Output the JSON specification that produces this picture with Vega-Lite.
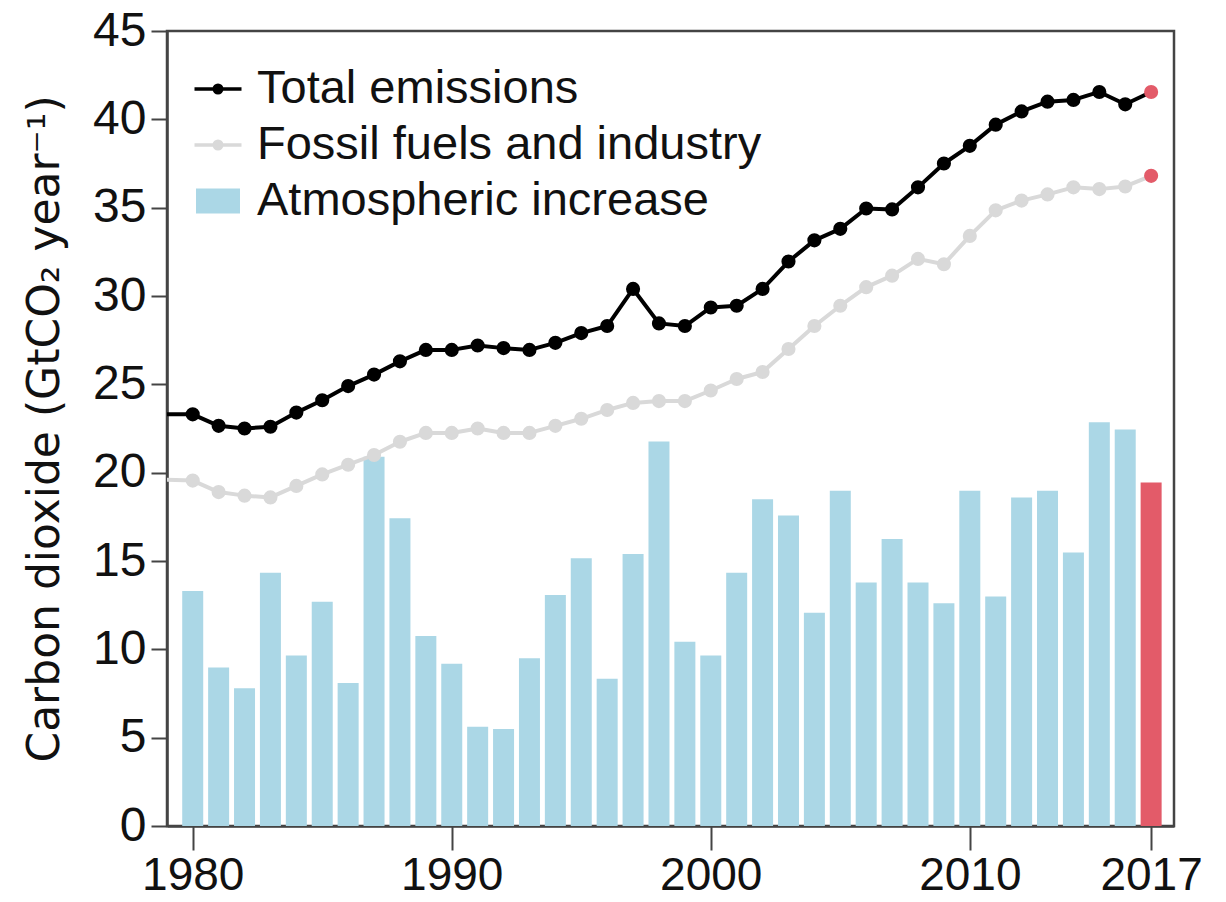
{
  "$schema": "https://vega.github.io/schema/vega-lite/v6.json",
  "width": 1007,
  "height": 795,
  "autosize": {"type": "none"},
  "padding": {"left": 167, "top": 31, "right": 52, "bottom": 76},
  "background": "white",
  "config": {"view": {"stroke": "#444444", "strokeWidth": 2.5}},
  "data": {"values": [
    {"year": 1979, "Total emissions": 23.3, "Fossil fuels and industry": 19.6},
    {"year": 1980, "Total emissions": 23.3, "Fossil fuels and industry": 19.55, "Atmospheric increase": 13.3},
    {"year": 1981, "Total emissions": 22.65, "Fossil fuels and industry": 18.9, "Atmospheric increase": 8.97},
    {"year": 1982, "Total emissions": 22.5, "Fossil fuels and industry": 18.7, "Atmospheric increase": 7.8},
    {"year": 1983, "Total emissions": 22.6, "Fossil fuels and industry": 18.6, "Atmospheric increase": 14.33},
    {"year": 1984, "Total emissions": 23.4, "Fossil fuels and industry": 19.25, "Atmospheric increase": 9.65},
    {"year": 1985, "Total emissions": 24.1, "Fossil fuels and industry": 19.9, "Atmospheric increase": 12.7},
    {"year": 1986, "Total emissions": 24.9, "Fossil fuels and industry": 20.45, "Atmospheric increase": 8.1},
    {"year": 1987, "Total emissions": 25.55, "Fossil fuels and industry": 21.0, "Atmospheric increase": 20.9},
    {"year": 1988, "Total emissions": 26.3, "Fossil fuels and industry": 21.75, "Atmospheric increase": 17.42},
    {"year": 1989, "Total emissions": 26.95, "Fossil fuels and industry": 22.25, "Atmospheric increase": 10.75},
    {"year": 1990, "Total emissions": 26.95, "Fossil fuels and industry": 22.25, "Atmospheric increase": 9.18},
    {"year": 1991, "Total emissions": 27.2, "Fossil fuels and industry": 22.5, "Atmospheric increase": 5.62},
    {"year": 1992, "Total emissions": 27.05, "Fossil fuels and industry": 22.25, "Atmospheric increase": 5.49},
    {"year": 1993, "Total emissions": 26.95, "Fossil fuels and industry": 22.25, "Atmospheric increase": 9.5},
    {"year": 1994, "Total emissions": 27.35, "Fossil fuels and industry": 22.65, "Atmospheric increase": 13.07},
    {"year": 1995, "Total emissions": 27.9, "Fossil fuels and industry": 23.05, "Atmospheric increase": 15.16},
    {"year": 1996, "Total emissions": 28.3, "Fossil fuels and industry": 23.55, "Atmospheric increase": 8.33},
    {"year": 1997, "Total emissions": 30.4, "Fossil fuels and industry": 23.95, "Atmospheric increase": 15.4},
    {"year": 1998, "Total emissions": 28.45, "Fossil fuels and industry": 24.05, "Atmospheric increase": 21.76},
    {"year": 1999, "Total emissions": 28.3, "Fossil fuels and industry": 24.05, "Atmospheric increase": 10.43},
    {"year": 2000, "Total emissions": 29.35, "Fossil fuels and industry": 24.65, "Atmospheric increase": 9.65},
    {"year": 2001, "Total emissions": 29.45, "Fossil fuels and industry": 25.3, "Atmospheric increase": 14.33},
    {"year": 2002, "Total emissions": 30.4, "Fossil fuels and industry": 25.7, "Atmospheric increase": 18.5},
    {"year": 2003, "Total emissions": 31.95, "Fossil fuels and industry": 27.0, "Atmospheric increase": 17.57},
    {"year": 2004, "Total emissions": 33.15, "Fossil fuels and industry": 28.3, "Atmospheric increase": 12.07},
    {"year": 2005, "Total emissions": 33.8, "Fossil fuels and industry": 29.45, "Atmospheric increase": 18.97},
    {"year": 2006, "Total emissions": 34.95, "Fossil fuels and industry": 30.5, "Atmospheric increase": 13.78},
    {"year": 2007, "Total emissions": 34.9, "Fossil fuels and industry": 31.15, "Atmospheric increase": 16.25},
    {"year": 2008, "Total emissions": 36.15, "Fossil fuels and industry": 32.1, "Atmospheric increase": 13.78},
    {"year": 2009, "Total emissions": 37.5, "Fossil fuels and industry": 31.8, "Atmospheric increase": 12.61},
    {"year": 2010, "Total emissions": 38.5, "Fossil fuels and industry": 33.4, "Atmospheric increase": 18.97},
    {"year": 2011, "Total emissions": 39.7, "Fossil fuels and industry": 34.85, "Atmospheric increase": 12.99},
    {"year": 2012, "Total emissions": 40.45, "Fossil fuels and industry": 35.4, "Atmospheric increase": 18.59},
    {"year": 2013, "Total emissions": 41.0, "Fossil fuels and industry": 35.75, "Atmospheric increase": 18.97},
    {"year": 2014, "Total emissions": 41.1, "Fossil fuels and industry": 36.15, "Atmospheric increase": 15.48},
    {"year": 2015, "Total emissions": 41.55, "Fossil fuels and industry": 36.05, "Atmospheric increase": 22.85},
    {"year": 2016, "Total emissions": 40.85, "Fossil fuels and industry": 36.2, "Atmospheric increase": 22.45},
    {"year": 2017, "Total emissions": 41.55, "Fossil fuels and industry": 36.8, "Atmospheric increase": 19.44}
  ]},
  "transform": [
    {"fold": ["Total emissions", "Fossil fuels and industry", "Atmospheric increase"], "as": ["series", "value"]}
  ],
  "encoding": {
    "x": {
      "field": "year",
      "type": "quantitative",
      "scale": {"domain": [1979.2, 2017.69], "nice": false, "zero": false},
      "axis": {
        "title": null,
        "values": [1980, 1990, 2000, 2010, 2017],
        "format": "d",
        "grid": false,
        "tickSize": 24,
        "tickWidth": 2,
        "tickColor": "#444444",
        "domainColor": "#444444",
        "domainWidth": 2.5,
        "labelPadding": 3,
        "labelFont": "Liberation Sans",
        "labelFontSize": 46,
        "labelColor": "#111111",
        "labelOverlap": false,
        "labelFlush": false,
        "labelBound": false
      }
    },
    "y": {
      "field": "value",
      "type": "quantitative",
      "scale": {"domain": [0, 45], "nice": false, "zero": true},
      "axis": {
        "title": "Carbon dioxide (GtCO₂ year⁻¹)",
        "values": [0, 5, 10, 15, 20, 25, 30, 35, 40, 45],
        "grid": false,
        "tickSize": 16,
        "tickWidth": 2,
        "tickColor": "#444444",
        "domainColor": "#444444",
        "domainWidth": 2.5,
        "labelPadding": 5,
        "labelFont": "Liberation Sans",
        "labelFontSize": 48,
        "labelColor": "#111111",
        "labelOverlap": false,
        "labelFlush": false,
        "labelBound": false,
        "titleFont": "DejaVu Sans",
        "titleFontSize": 44,
        "titleFontWeight": "normal",
        "titleColor": "#111111",
        "titleAngle": -90,
        "titleAlign": "center",
        "titleBaseline": "alphabetic",
        "titleX": -109,
        "titleY": 397.5
      }
    }
  },
  "layer": [
    {
      "transform": [{"filter": "datum.series === 'Atmospheric increase' && datum.year >= 1980"}],
      "mark": {"type": "bar", "width": 21, "opacity": 1},
      "encoding": {
        "color": {
          "condition": {"test": "datum.year === 2017", "value": "#e35b69"},
          "field": "series",
          "type": "nominal",
          "scale": {
            "domain": ["Total emissions", "Fossil fuels and industry", "Atmospheric increase"],
            "range": ["#000000", "#d9d9d9", "#abd7e6"]
          },
          "legend": {
            "title": null,
            "orient": "none",
            "legendX": 24,
            "legendY": 31,
            "padding": 0,
            "values": ["Total emissions", "Fossil fuels and industry", "Atmospheric increase"],
            "labelFont": "Liberation Sans",
            "labelFontSize": 47,
            "labelColor": "#111111",
            "labelOffset": 12,
            "labelLimit": 800,
            "symbolSize": 2500,
            "symbolOpacity": 1,
            "symbolStrokeWidth": 3.5,
            "rowPadding": 6
          }
        }
      }
    },
    {
      "transform": [{"filter": "datum.series !== 'Atmospheric increase'"}],
      "mark": {"type": "line", "strokeWidth": 4, "clip": true, "strokeJoin": "round"},
      "encoding": {
        "color": {"field": "series", "type": "nominal"}
      }
    },
    {
      "transform": [{"filter": "datum.series !== 'Atmospheric increase' && datum.year >= 1980"}],
      "mark": {"type": "point", "filled": true, "size": 200, "opacity": 1},
      "encoding": {
        "color": {
          "condition": {"test": "datum.year === 2017", "value": "#e35b69"},
          "field": "series",
          "type": "nominal"
        }
      }
    },
    {
      "transform": [{"filter": "datum.year === 0"}],
      "mark": {"type": "point", "filled": true, "opacity": 0},
      "encoding": {
        "color": {"field": "series", "type": "nominal"},
        "shape": {
          "field": "series",
          "type": "nominal",
          "scale": {
            "domain": ["Total emissions", "Fossil fuels and industry", "Atmospheric increase"],
            "range": [
              "M-0.94,0H0.94M-0.15,0A0.15,0.15,0,1,0,0.15,0A0.15,0.15,0,1,0,-0.15,0Z",
              "M-0.94,0H0.94M-0.15,0A0.15,0.15,0,1,0,0.15,0A0.15,0.15,0,1,0,-0.15,0Z",
              "M-0.81,-0.43H0.81V0.43H-0.81Z"
            ]
          },
          "legend": {
            "title": null,
            "orient": "none",
            "legendX": 24,
            "legendY": 31,
            "padding": 0,
            "values": ["Total emissions", "Fossil fuels and industry", "Atmospheric increase"],
            "labelFont": "Liberation Sans",
            "labelFontSize": 47,
            "labelColor": "#111111",
            "labelOffset": 12,
            "labelLimit": 800,
            "symbolSize": 2500,
            "symbolOpacity": 1,
            "symbolStrokeWidth": 3.5,
            "rowPadding": 6
          }
        }
      }
    }
  ]
}
